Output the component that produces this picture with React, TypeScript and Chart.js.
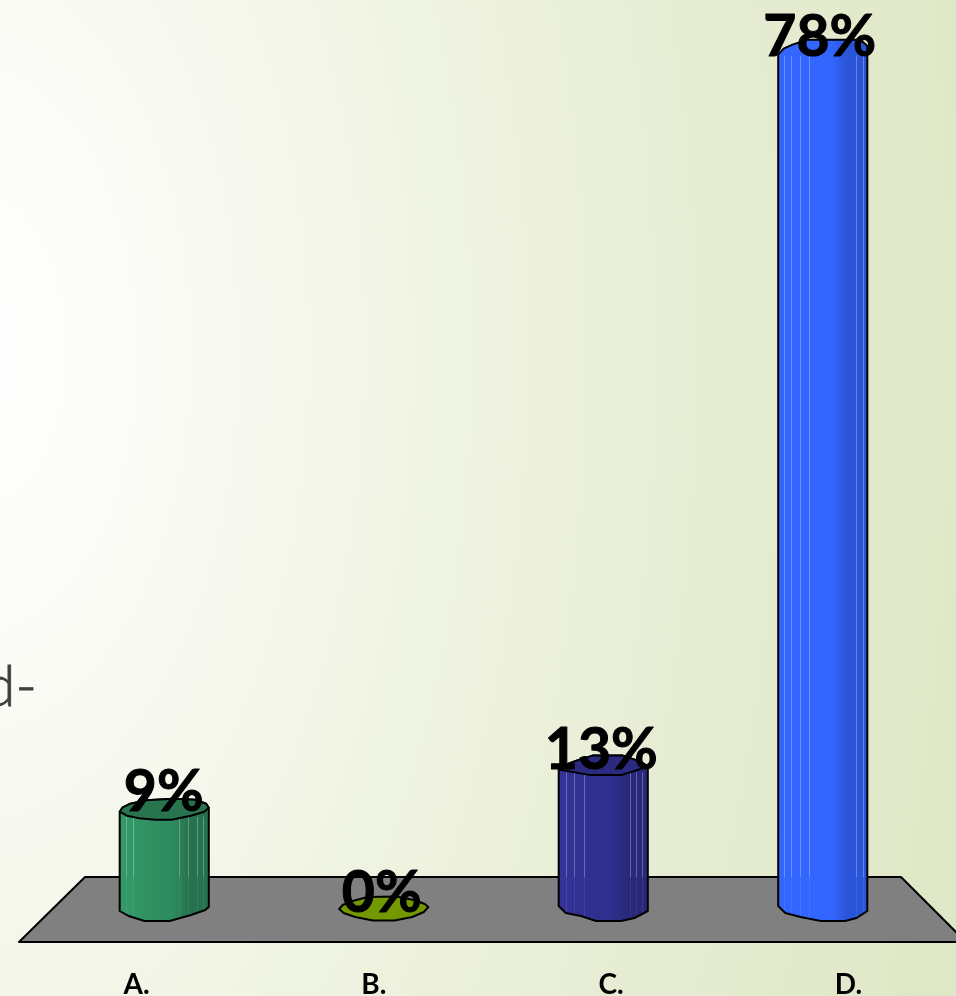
import React, { useEffect, useRef } from "react";
import { Chart, registerables } from "chart.js";

Chart.register(...registerables);

const categories = ["A.", "B.", "C.", "D."];
const values = [9, 0, 13, 78];
const valueLabels = ["9%", "0%", "13%", "78%"];
const sideLight = ["#349a69", "#739900", "#333399", "#3366ff"];
const sideMid = ["#2e8b5e", "#739900", "#2e2e8c", "#3366ff"];
const sideDark = ["#27724e", "#739900", "#28287a", "#2b55d8"];
const capColors = ["#27744f", "#739900", "#2a2a80", "#3366ff"];

// outline offsets: [fraction of bar width from centre, px from anchor]
const topFront: [number, number][][] = [
  [[-0.5, 3], [-0.42, 7], [-0.28, 9.5], [-0.1, 11], [0.08, 11], [0.3, 7], [0.45, 3], [0.5, -1]],
  [[-0.5, 1], [-0.45, 5], [-0.32, 9], [-0.12, 12.5], [0.12, 12.5], [0.32, 9], [0.45, 4], [0.5, -1]],
  [[-0.5, 5], [-0.3, 8], [-0.14, 10.5], [0.2, 10.5], [0.5, 2]],
  [[-0.5, 7], [-0.5, 7], [0.5, 0], [0.5, 0]],
];
const topBack: [number, number][][] = [
  [[-0.5, 3], [-0.47, -1], [-0.38, -5], [-0.2, -8.5], [0.1, -10], [0.35, -9], [0.47, -5], [0.5, -1]],
  [[-0.5, 1], [-0.46, -3], [-0.35, -7], [-0.18, -11], [0.14, -11.5], [0.34, -8], [0.46, -4], [0.5, -1]],
  [[-0.5, 5], [-0.42, 0], [-0.3, -4], [-0.12, -9], [0.22, -9], [0.42, -3], [0.5, 2]],
  [[-0.5, 7], [-0.44, 1], [-0.34, -3], [-0.17, -8], [0.42, -8], [0.5, -2]],
];
const bottomFront: [number, number][][] = [
  [[0.5, -1], [0.46, 2], [0.3, 7], [0.06, 13], [-0.22, 13], [-0.4, 8], [-0.5, 3]],
  [],
  [[0.5, 3], [0.35, 10], [0.2, 13], [-0.08, 13], [-0.25, 8], [-0.42, 5], [-0.5, -2]],
  [[0.5, 3], [0.38, 10], [0.25, 13], [-0.02, 13], [-0.25, 9], [-0.42, 5], [-0.5, -2]],
];
const stripes = [
  [-0.43, -0.35, 0.16, 0.27, 0.37, 0.43],
  [],
  [-0.42, -0.33, -0.22, 0.3, 0.37, 0.43],
  [-0.44, -0.36, -0.26, -0.15, 0.37, 0.45],
];
const labelShiftX = [-0.5, -2, -2, -3];
const labelLift = [2, 4, 4, 8];
const floorBackY = 877;
const floorFrontY = 942;

const trace = (ctx: CanvasRenderingContext2D, pts: [number, number][], cx: number, w: number, y: number, move: boolean) => {
  pts.forEach(([fx, dy], i) => {
    if (i === 0 && move) ctx.moveTo(cx + fx * w, y + dy);
    else ctx.lineTo(cx + fx * w, y + dy);
  });
};

const scenePlugin = {
  id: "scene",
  beforeDraw(chart: any) {
    const { ctx, width, height } = chart;
    ctx.save();
    ctx.translate(-20, 350);
    ctx.scale(1, 1.8);
    const bg = ctx.createRadialGradient(0, 0, 0, 0, 0, 1000);
    bg.addColorStop(0, "#ffffff");
    bg.addColorStop(0.15, "#fbfcf7");
    bg.addColorStop(0.45, "#f0f4e3");
    bg.addColorStop(0.75, "#e6ecd3");
    bg.addColorStop(1, "#dfe8c6");
    ctx.fillStyle = bg;
    ctx.fillRect(-100, -1000, width + 200, height + 2000);
    ctx.restore();

    ctx.save();
    ctx.fillStyle = "#404040";
    ctx.strokeStyle = "#404040";
    ctx.lineWidth = 0.8;
    ctx.font = "300 58px Lato, sans-serif";
    ctx.textAlign = "right";
    ctx.textBaseline = "alphabetic";
    ctx.fillText("d-", 37, 706);
    ctx.strokeText("d-", 37, 706);
    ctx.beginPath();
    ctx.moveTo(85, floorBackY);
    ctx.lineTo(901, floorBackY);
    ctx.lineTo(966, floorFrontY);
    ctx.lineTo(19, floorFrontY);
    ctx.closePath();
    ctx.fillStyle = "#808080";
    ctx.fill();
    ctx.strokeStyle = "#000";
    ctx.lineWidth = 2;
    ctx.lineJoin = "round";
    ctx.stroke();
    ctx.restore();
  },
  beforeDatasetDraw(chart: any) {
    const { ctx } = chart;
    const bars = chart.getDatasetMeta(0).data;
    ctx.save();
    ctx.lineJoin = "round";
    bars.forEach((bar: any, i: number) => {
      const cx = bar.x;
      const w = bar.width;
      const top = bar.y;
      const base = bar.base;
      if (values[i] > 0) {
        const g = ctx.createLinearGradient(cx - w / 2, 0, cx + w / 2, 0);
        g.addColorStop(0, sideLight[i]);
        g.addColorStop(0.6, sideMid[i]);
        g.addColorStop(0.78, sideDark[i]);
        g.addColorStop(1, sideDark[i]);
        ctx.beginPath();
        trace(ctx, topBack[i], cx, w, top, true);
        trace(ctx, bottomFront[i], cx, w, base, false);
        ctx.closePath();
        ctx.fillStyle = g;
        ctx.fill();
        ctx.save();
        ctx.clip();
        stripes[i].forEach((s) => {
          const x = Math.round(cx + s * w) + 0.5;
          ctx.lineWidth = 1;
          ctx.strokeStyle = "rgba(255,255,255,0.28)";
          ctx.beginPath();
          ctx.moveTo(x, top + 8);
          ctx.lineTo(x, floorBackY);
          ctx.stroke();
          ctx.strokeStyle = "rgba(255,255,255,0.08)";
          ctx.beginPath();
          ctx.moveTo(x, floorBackY);
          ctx.lineTo(x, base + 13);
          ctx.stroke();
        });
        ctx.restore();
        ctx.beginPath();
        trace(ctx, topBack[i], cx, w, top, true);
        trace(ctx, bottomFront[i], cx, w, base, false);
        ctx.closePath();
        ctx.strokeStyle = "#000";
        ctx.lineWidth = 2;
        ctx.stroke();
      }
      if (i !== 3) {
        ctx.beginPath();
        trace(ctx, topBack[i], cx, w, top, true);
        trace(ctx, [...topFront[i]].reverse(), cx, w, top, false);
        ctx.closePath();
        ctx.fillStyle = capColors[i];
        ctx.fill();
        ctx.strokeStyle = "#000";
        ctx.lineWidth = 2;
        ctx.stroke();
      }
    });
    ctx.restore();
    return false;
  },
  afterDatasetsDraw(chart: any) {
    const { ctx } = chart;
    const bars = chart.getDatasetMeta(0).data;
    ctx.save();
    ctx.fillStyle = "#000";
    ctx.strokeStyle = "#000";
    ctx.lineWidth = 1;
    ctx.lineJoin = "round";
    ctx.font = "bold 57px Lato, sans-serif";
    ctx.textAlign = "center";
    ctx.textBaseline = "alphabetic";
    bars.forEach((bar: any, i: number) => {
      const x = bar.x + labelShiftX[i];
      const y = bar.y + labelLift[i];
      ctx.fillText(valueLabels[i], x, y);
      ctx.strokeText(valueLabels[i], x, y);
    });
    ctx.restore();
  },
};

export default function App() {
  const ref = useRef<HTMLCanvasElement>(null);
  useEffect(() => {
    const chart = new Chart(ref.current as HTMLCanvasElement, {
      type: "bar",
      data: {
        labels: categories,
        datasets: [
          {
            data: values,
            backgroundColor: sideMid,
            categoryPercentage: 1,
            barPercentage: 0.406,
          },
        ],
      },
      options: {
        animation: false,
        responsive: false,
        layout: { padding: { left: 54.5, right: 23.5, top: 25.6, bottom: 0 } },
        plugins: { legend: { display: false }, tooltip: { enabled: false } },
        scales: {
          x: { type: "category", display: false, grid: { display: false } },
          y: { type: "linear", display: false, min: 0, max: 80 },
          xLabels: {
            type: "linear",
            axis: "x",
            position: "bottom",
            offset: false,
            min: -0.3455,
            max: 3.354,
            grid: { display: false, offset: false },
            border: { display: false },
            afterBuildTicks: (axis: any) => {
              axis.ticks = categories.map((_, i) => ({ value: i }));
            },
            afterFit: (axis: any) => {
              axis.height = 88;
            },
            ticks: {
              autoSkip: false,
              maxRotation: 0,
              padding: 52,
              color: "#000",
              font: { family: "Lato, sans-serif", weight: "bold", size: 28 },
              callback: (v: any) => categories[v as number],
            },
          },
        },
      },
      plugins: [scenePlugin],
    } as any);
    return () => chart.destroy();
  }, []);
  return (
    <div style={{ position: "absolute", left: 0, top: 0, width: 956, height: 996, overflow: "hidden" }}>
      <canvas ref={ref} width={956} height={996} style={{ display: "block" }} />
    </div>
  );
}
